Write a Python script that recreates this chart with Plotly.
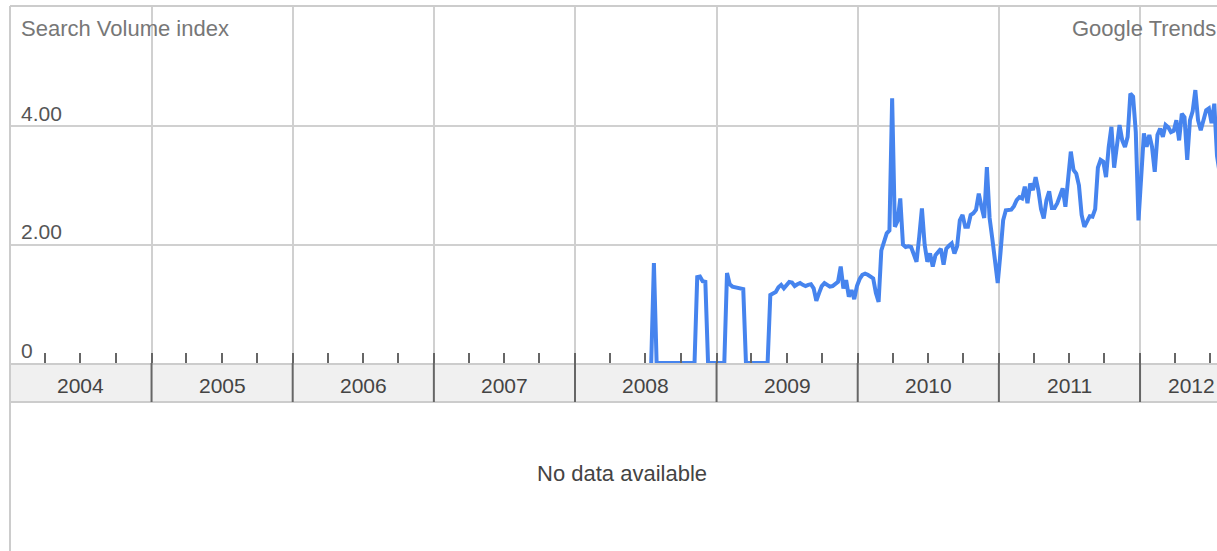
import plotly.graph_objects as go
import pandas as pd

# ---- data ----
start_week = "2008-07-16"
values = [
    0, 1.69,
    0, 0, 0, 0, 0, 0, 0, 0, 0, 0, 0, 0, 0, 0, 0,
    1.45, 1.46, 1.38, 1.37,
    0, 0, 0, 0, 0, 0, 0,
    1.52, 1.33, 1.29, 1.28, 1.27, 1.26, 1.25,
    0, 0, 0, 0, 0, 0, 0, 0, 0,
    1.15, 1.18, 1.20, 1.28, 1.32, 1.26, 1.33, 1.37, 1.36, 1.30,
    1.33, 1.35, 1.32, 1.30, 1.32, 1.33, 1.26, 1.05, 1.18, 1.30,
    1.35, 1.32, 1.29, 1.30, 1.33, 1.37, 1.63, 1.26, 1.40, 1.12,
    1.23, 1.08, 1.30, 1.42, 1.49, 1.51, 1.49, 1.46, 1.43, 1.18,
    1.03, 1.90, 2.05, 2.19, 2.24, 4.47, 2.30, 2.40, 2.78, 2.00,
    1.96, 1.97, 1.96, 1.85, 1.71, 2.13, 2.61, 2.00, 1.71, 1.85,
    1.63, 1.82, 1.88, 1.93, 1.66, 1.93, 1.98, 2.02, 1.85, 1.97,
    2.41, 2.50, 2.30, 2.30, 2.50, 2.53, 2.59, 2.86, 2.64, 2.45,
    3.31, 2.45, 2.10, 1.70, 1.35, 1.85, 2.41, 2.58, 2.59, 2.59,
    2.65, 2.75, 2.80, 2.78, 2.98, 2.70, 3.03, 2.92, 3.14, 2.92,
    2.60, 2.44, 2.75, 2.90, 2.62, 2.62, 2.70, 2.81, 2.95, 2.64,
    3.15, 3.57, 3.26, 3.20, 3.00, 2.50, 2.30, 2.40, 2.48, 2.47,
    2.60, 3.30, 3.43, 3.40, 3.14, 3.65, 3.99, 3.30, 3.65, 4.02,
    3.76, 3.65, 3.82, 4.55, 4.50, 3.90, 2.41, 3.10, 3.88, 3.65,
    3.85, 3.65, 3.23, 3.85, 3.96, 3.82, 4.02, 3.98, 3.90, 3.92,
    4.10, 3.76, 4.21, 4.15, 3.43, 4.10, 4.25, 4.61, 4.10, 3.93,
    4.10, 4.27, 4.30, 4.05, 4.38, 3.50, 3.20,
]
years = [2004, 2005, 2006, 2007, 2008, 2009, 2010, 2011, 2012]
year_labels = [str(y) for y in years]
chart_end_full = "2012-09-25"   # original chart extent (screenshot is cropped)
x_range = ["2004-01-01", "2012-07-18"]
y_range = [0, 6.03]
y_ticks = [0, 2, 4]
y_tick_labels = ["0", "2.00", "4.00"]
title_left = "Search Volume index"
title_right = "Google Trends"
no_data_text = "No data available"

dates = pd.date_range(start_week, periods=len(values), freq="7D")

# ---- geometry ----
W, H = 1217, 551
ML, MR, MT, MB = 10, 0, 6, 188
PH = H - MT - MB
PW = W - ML - MR
band_h = 39 / PH
bottom_y = -MB / PH

GRID = "#d0d0d0"
FONT = "Arial, Liberation Sans, sans-serif"

fig = go.Figure()
fig.add_trace(go.Scatter(
    x=dates, y=values, mode="lines",
    line=dict(color="#4684ee", width=4),
    cliponaxis=False, hoverinfo="skip", showlegend=False,
))

shapes = [
    dict(type="rect", xref="paper", yref="paper", x0=0, x1=1, y0=-band_h, y1=0,
         fillcolor="#f0f0f0", line=dict(width=0), layer="below"),
    dict(type="line", xref="paper", yref="paper", x0=0, x1=1.01, y0=-band_h, y1=-band_h,
         line=dict(color="#cccccc", width=2)),
    dict(type="line", xref="paper", yref="paper", x0=0, x1=1.01, y0=1, y1=1,
         line=dict(color="#cccccc", width=2)),
    dict(type="line", xref="paper", yref="paper", x0=0, x1=0, y0=1, y1=bottom_y,
         line=dict(color="#cccccc", width=2)),
]
for y in years[1:]:
    shapes.append(dict(type="line", xref="x", yref="paper",
                       x0=f"{y}-01-01", x1=f"{y}-01-01", y0=-band_h, y1=0,
                       line=dict(color="#666666", width=2)))

annotations = [
    dict(text=title_left, xref="paper", yref="paper", x=9 / PW, y=(PH - 23) / PH,
         xanchor="left", yanchor="middle", showarrow=False,
         font=dict(family=FONT, size=22, color="#777777")),
    dict(text=title_right, xref="paper", yref="paper", x=(1069.7 - ML) / PW, y=(PH - 23) / PH,
         xanchor="left", yanchor="middle", showarrow=False,
         font=dict(family=FONT, size=22, color="#777777")),
    dict(text=no_data_text, xref="paper", yref="paper", x=(621.7 - ML) / PW, y=-110 / PH,
         xanchor="center", yanchor="middle", showarrow=False,
         font=dict(family=FONT, size=22, color="#444444")),
]
for v, lab in zip(y_ticks, y_tick_labels):
    annotations.append(dict(text=lab, xref="paper", yref="y", x=9 / PW, y=v, yshift=13,
                            xanchor="left", yanchor="middle", showarrow=False,
                            font=dict(family=FONT, size=21, color="#555555")))
for i, (y, lab) in enumerate(zip(years, year_labels)):
    s = pd.Timestamp(f"{y}-01-01")
    e = pd.Timestamp(f"{y + 1}-01-01") if i < len(years) - 1 else pd.Timestamp(chart_end_full)
    mid = s + (e - s) / 2
    annotations.append(dict(text=lab, xref="x", yref="paper", x=mid, y=-22 / PH,
                            xanchor="center", yanchor="middle", showarrow=False,
                            font=dict(family=FONT, size=21, color="#444444")))

fig.update_layout(
    width=W, height=H, autosize=False,
    margin=dict(l=ML, r=MR, t=MT, b=MB, pad=0),
    paper_bgcolor="white", plot_bgcolor="white",
    shapes=shapes, annotations=annotations, showlegend=False,
    xaxis=dict(
        type="date", range=x_range, showgrid=True, gridcolor=GRID, gridwidth=2,
        tick0="2004-01-01", dtick="M12", ticks="inside", ticklen=10, tickwidth=2,
        tickcolor="#666666", showticklabels=False, showline=True, linecolor="#cccccc",
        linewidth=2, zeroline=False, fixedrange=True,
        minor=dict(tick0="2004-01-01", dtick="M3", ticks="inside", ticklen=10,
                   tickwidth=2, tickcolor="#666666", showgrid=False),
    ),
    yaxis=dict(
        range=y_range, tickvals=y_ticks, showgrid=True, gridcolor=GRID, gridwidth=2,
        showticklabels=False, zeroline=False, showline=False, ticks="", fixedrange=True,
    ),
)

fig.write_html(
    "out.html",
    config={"displayModeBar": False},
    post_script="document.body.style.margin='0';",
)
